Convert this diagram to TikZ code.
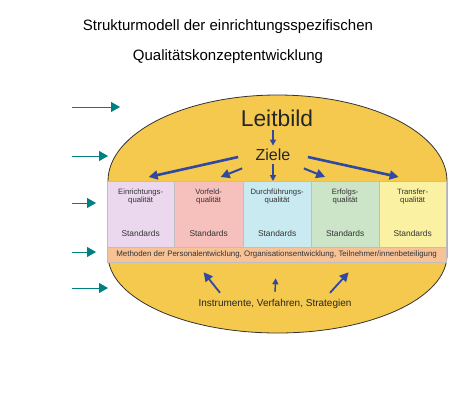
\documentclass[tikz,border=0pt]{standalone}
\usepackage{fontspec}
\setmainfont{Liberation Sans}
\usepackage{xcolor}
\usetikzlibrary{arrows.meta, positioning, calc}

\definecolor{blobyellow}{RGB}{245,201,78}
\definecolor{qEin}{RGB}{236,216,238}
\definecolor{qVor}{RGB}{246,192,188}
\definecolor{qDur}{RGB}{202,234,242}
\definecolor{qErf}{RGB}{204,228,200}
\definecolor{qTra}{RGB}{250,242,162}
\definecolor{methpeach}{RGB}{246,194,150}
\definecolor{arrowblue}{RGB}{48,72,160}
\definecolor{tealarrow}{RGB}{0,128,128}

\tikzset{
  bluearrow/.style={-{Triangle[length=9pt,width=9pt]}, line width=2.6pt, arrowblue},
  smallblue/.style={-{Triangle[length=6pt,width=6pt]}, line width=1.4pt, arrowblue},
  tealpointer/.style={-{Triangle[length=9pt,width=10pt]}, line width=0.9pt, tealarrow},
  qcell/.style={draw=black!25, line width=0.3pt, minimum height=66pt, inner sep=0pt},
  qtext/.style={font=\fontsize{7.7}{8.6}\selectfont, align=center, text=black!80},
}

\begin{document}
\begin{tikzpicture}[x=1pt, y=-1pt]
\useasboundingbox (0,0) rectangle (458,410);

% Title
\node[font=\fontsize{15}{17}\selectfont] (title1) at (228,27) {Strukturmodell der einrichtungsspezifischen};
\node[font=\fontsize{15}{17}\selectfont] (title2) at (228,57) {Qualitätskonzeptentwicklung};

% Yellow base shape
\fill[blobyellow] (108,255) -- (108,181)
  arc[start angle=180, end angle=0, x radius=169.5pt, y radius=86pt]
  -- (447,255)
  arc[start angle=0, end angle=-180, x radius=169.5pt, y radius=78pt] -- cycle;
\draw[black!80, line width=0.8pt] (108,255) -- (108,181)
  arc[start angle=180, end angle=0, x radius=169.5pt, y radius=86pt]
  -- (447,255)
  arc[start angle=0, end angle=-180, x radius=169.5pt, y radius=78pt] -- cycle;

% Quality columns
\foreach \n/\xa/\xb/\c/\t in {
  col1/107/174/qEin/{Einrichtungs-\\qualität},
  col2/174/243/qVor/{Vorfeld-\\qualität},
  col3/243/311/qDur/{Durchführungs-\\qualität},
  col4/311/379/qErf/{Erfolgs-\\qualität},
  col5/379/446/qTra/{Transfer-\\qualität}} {
  \node[qcell, fill=\c, minimum width={\xb-\xa}, anchor=north west] (\n) at (\xa,181) {};
  \node[qtext, anchor=north] (\n-t) at ($(\n.north)+(0,4)$) {\t};
  \node[qtext, font=\fontsize{8.4}{9}\selectfont, anchor=south] (\n-s) at ($(\n.south)+(0,-7)$) {Standards};
}

% Methods row
\node[draw=black!25, line width=0.3pt, fill=methpeach, minimum width=339pt, minimum height=15pt,
  inner sep=0pt, anchor=north west, font=\fontsize{7.9}{9}\selectfont, text=black!80] (meth) at (107,247)
  {Methoden der Personalentwicklung, Organisationsentwicklung, Teilnehmer/innenbeteiligung};

% Texts
\node[font=\fontsize{22.8}{25}\selectfont, text=black!85] (leitbild) at (277,118) {Leitbild};
\node[font=\fontsize{16}{18}\selectfont, text=black!85] (ziele) at (273,155) {Ziele};
\node[font=\fontsize{10}{12}\selectfont, text=black!85] (instr) at (275,304) {Instrumente, Verfahren, Strategien};

% Arrows from top
\draw[smallblue] (leitbild.south -| ziele.north) -- (ziele.north);
\draw[bluearrow] ($(ziele.west)+(-14,2)$) -- ($(col1.north)+(8,-4)$);
\draw[bluearrow, line width=2pt] ($(ziele.south west)+(-10,4)$) -- ($(col2.north)+(12,-4)$);
\draw[smallblue] (ziele.south) -- (col3.north -| ziele.south);
\draw[bluearrow, line width=2pt] ($(ziele.south east)+(10,4)$) -- ($(col4.north)+(-20,-4)$);
\draw[bluearrow] ($(ziele.east)+(14,2)$) -- ($(col5.north)+(-14,-4)$);

% Arrows from bottom
\draw[bluearrow, line width=1.8pt] ($(instr.north)+(-55,-3)$) -- ($(meth.south)+(-73,10)$);
\draw[smallblue] ($(instr.north)+(0,-4)$) -- ($(meth.south)+(-1,16)$);
\draw[bluearrow, line width=1.8pt] ($(instr.north)+(55,-3)$) -- ($(meth.south)+(72,10)$);

% Teal pointers on the left
\coordinate (p1s) at (72,107); \coordinate (p1e) at (120,107);
\coordinate (p2s) at (72,156); \coordinate (p2e) at (108,156);
\coordinate (p3s) at (72,203); \coordinate (p3e) at (96,203);
\coordinate (p4s) at (72,252); \coordinate (p4e) at (96,252);
\coordinate (p5s) at (72,288); \coordinate (p5e) at (108,288);
\foreach \i in {1,...,5} {
  \draw[tealpointer] (p\i s) -- (p\i e);
}

\end{tikzpicture}
\end{document}
